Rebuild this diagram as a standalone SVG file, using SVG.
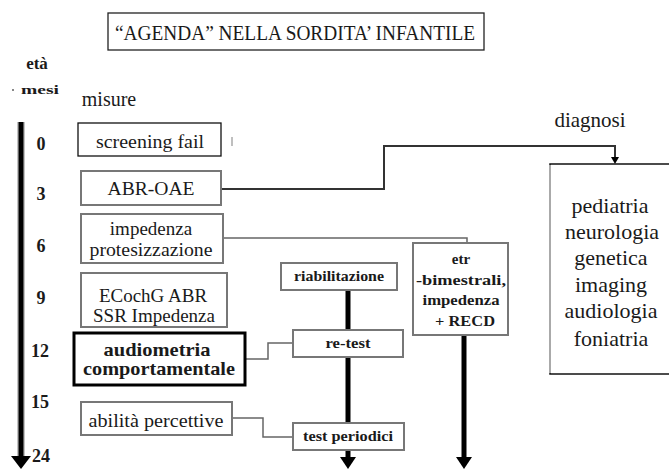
<svg xmlns="http://www.w3.org/2000/svg" width="669" height="470" viewBox="0 0 669 470">
<style>
text{font-family:'Times New Roman','Liberation Serif',serif;fill:#1a1a1a}
.c{text-anchor:middle}
.b{font-weight:bold}
.box{fill:#fff;stroke:#777;stroke-width:2}
.boxk{fill:#fff;stroke:#111;stroke-width:1.3}
.thin{fill:none;stroke:#666;stroke-width:1.5}
.thick{fill:none;stroke:#000;stroke-width:5}
.shade{fill:none;stroke:#c4c4c4;stroke-width:8}
.num{font-size:18px;font-weight:bold;text-anchor:middle}
</style>
<defs>
<polygon id="arrowhead" points="-8,0 8,0 0,12" fill="#000"/>
</defs>

<g id="title">
<rect x="108" y="13" width="376" height="37" fill="#fff" stroke="#222" stroke-width="1.3"/>
<text x="295" y="40" class="c" font-size="20" textLength="360" lengthAdjust="spacingAndGlyphs">“AGENDA” NELLA SORDITA’ INFANTILE</text>
</g>

<g id="headers">
<text x="37" y="69" class="c b" font-size="17">età</text>
<rect x="12" y="89" width="2" height="2" fill="#888"/>
<text x="40" y="94" class="c b" font-size="13" textLength="38" lengthAdjust="spacingAndGlyphs">mesi</text>
<text x="109" y="106" class="c" font-size="20">misure</text>
<text x="590" y="127" class="c" font-size="21">diagnosi</text>
</g>

<g id="axis">
<line x1="21" y1="122" x2="21" y2="457" class="shade"/>
<line x1="21" y1="122" x2="21" y2="458" class="thick"/>
<polygon points="11,456 31,456 21,469" fill="#000"/>
<text x="41" y="150" class="num">0</text>
<text x="41" y="200" class="num">3</text>
<text x="41" y="252" class="num">6</text>
<text x="41" y="304" class="num">9</text>
<text x="40" y="357" class="num">12</text>
<text x="40" y="408" class="num">15</text>
<text x="41" y="462" class="num">24</text>
</g>

<g id="connectors">
<polyline points="221,189 384,189 384,146 615,146 615,158" fill="none" stroke="#333" stroke-width="2"/>
<polygon points="611,157 619,157 615,164" fill="#000"/>
<polyline points="223,238 467,238 467,243" class="thin"/>
<polyline points="245,359 268,359 268,343 293,343" class="thin"/>
<polyline points="232,418 263,418 263,437 293,437" class="thin"/>
<line x1="348" y1="290" x2="348" y2="330" class="thick"/>
<line x1="348" y1="357" x2="348" y2="423" class="thick"/>
<line x1="348" y1="450" x2="348" y2="459" class="thick"/>
<use href="#arrowhead" x="348" y="457"/>
<line x1="464" y1="335" x2="464" y2="459" class="thick"/>
<use href="#arrowhead" x="464" y="457"/>
<line x1="232" y1="137" x2="232" y2="146" stroke="#aaa" stroke-width="1.5"/>
</g>

<g id="n-screening">
<rect x="78" y="123" width="143" height="33" class="boxk"/>
<text x="150" y="148" class="c" font-size="18" textLength="108" lengthAdjust="spacingAndGlyphs">screening fail</text>
</g>

<g id="n-abr">
<rect x="81" y="171" width="140" height="34" class="box"/>
<text x="151" y="195" class="c" font-size="18" textLength="87" lengthAdjust="spacingAndGlyphs">ABR-OAE</text>
</g>

<g id="n-impedenza">
<rect x="81" y="214" width="142" height="49" class="box"/>
<text x="151" y="235" class="c" font-size="19">impedenza</text>
<text x="151" y="256" class="c" font-size="19" textLength="123" lengthAdjust="spacingAndGlyphs">protesizzazione</text>
</g>

<g id="n-ecochg">
<rect x="81" y="273" width="146" height="54" class="box"/>
<text x="153" y="302" class="c" font-size="19">ECochG ABR</text>
<text x="154" y="322" class="c" font-size="19">SSR Impedenza</text>
</g>

<g id="n-audiometria">
<rect x="74" y="333" width="171" height="52" fill="#fff" stroke="#000" stroke-width="3"/>
<text x="157" y="356" class="c b" font-size="19" textLength="107" lengthAdjust="spacingAndGlyphs">audiometria</text>
<text x="159" y="375" class="c b" font-size="19" textLength="152" lengthAdjust="spacingAndGlyphs">comportamentale</text>
</g>

<g id="n-abilita">
<rect x="81" y="402" width="151" height="33" class="box" stroke-width="1.5"/>
<text x="156" y="427" class="c" font-size="19" textLength="135" lengthAdjust="spacingAndGlyphs">abilità percettive</text>
</g>

<g id="n-riabilitazione">
<rect x="281" y="263" width="116" height="27" class="box" stroke="#666" stroke-width="1.5"/>
<text x="339" y="281" class="c b" font-size="14" textLength="90" lengthAdjust="spacingAndGlyphs">riabilitazione</text>
</g>

<g id="n-retest">
<rect x="293" y="330" width="110" height="27" class="box" stroke-width="1.8"/>
<text x="348" y="348" class="c b" font-size="14" textLength="45" lengthAdjust="spacingAndGlyphs">re-test</text>
</g>

<g id="n-testperiodici">
<rect x="293" y="423" width="111" height="27" class="box" stroke-width="1.8"/>
<text x="348" y="441" class="c b" font-size="14" textLength="90" lengthAdjust="spacingAndGlyphs">test periodici</text>
</g>

<g id="n-etr">
<rect x="413" y="243" width="95" height="92" class="box" stroke="#666"/>
<text x="461" y="264" class="c b" font-size="15">etr</text>
<text x="461" y="285" class="c b" font-size="15" textLength="90" lengthAdjust="spacingAndGlyphs">-bimestrali,</text>
<text x="461" y="305" class="c b" font-size="15" textLength="77" lengthAdjust="spacingAndGlyphs">impedenza</text>
<text x="465" y="326" class="c b" font-size="15" textLength="60" lengthAdjust="spacingAndGlyphs">+ RECD</text>
</g>

<g id="n-diagnosi">
<rect x="550" y="164" width="125" height="210" fill="#fff" stroke="#111" stroke-width="1.5"/>
<line x1="550" y1="165" x2="550" y2="373" stroke="#aaa" stroke-width="2"/>
<text x="610" y="213" class="c" font-size="22">pediatria</text>
<text x="612" y="239" class="c" font-size="22">neurologia</text>
<text x="611" y="265" class="c" font-size="22">genetica</text>
<text x="611" y="292" class="c" font-size="22">imaging</text>
<text x="611" y="318" class="c" font-size="22">audiologia</text>
<text x="611" y="346" class="c" font-size="22">foniatria</text>
</g>
</svg>
